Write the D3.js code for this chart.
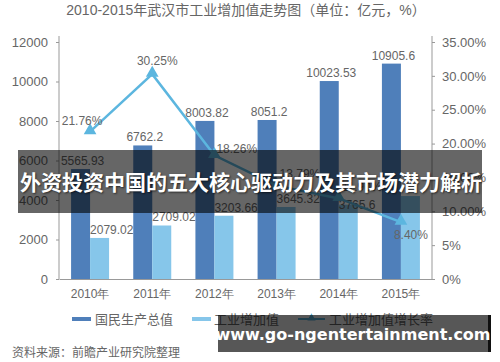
<!DOCTYPE html>
<html>
<head>
<meta charset="utf-8">
<script src="https://cdn.jsdelivr.net/npm/d3@7"></script>
<style>
  body { margin: 0; background: #fff; }
  svg { display: block; font-family: "Liberation Sans", Arial, "Noto Sans CJK SC", sans-serif; }
</style>
</head>
<body>
<div id="chart"></div>
<script>
// data
var years = ["2010年", "2011年", "2012年", "2013年", "2014年", "2015年"];
var gdp = [5565.93, 6762.2, 8003.82, 8051.2, 10023.53, 10905.6];
var industry = [2079.02, 2709.02, 3203.66, 3645.32, 3765.6, 4200];
var growth = [21.76, 30.25, 18.26, 13.79, 11.9, 8.40];
var growthText = ["21.76%", "30.25%", "18.26%", "13.79%", "11.90%", "8.40%"];
var leftTicks = [0, 2000, 4000, 6000, 8000, 10000, 12000];
var rightTicks = [0, 5, 10, 15, 20, 25, 30, 35];
var rightTickText = ["0%", "5%", "10.00%", "15.00%", "20.00%", "25.00%", "30.00%", "35.00%"];
var seriesNames = ["国民生产总值", "工业增加值", "工业增加值增长率"];

var w = 500, h = 362;
var dark = "#4f7fba", light = "#86c6ea", lineCol = "#5cb6df";
var textCol = "#666";

var svg = d3.select("#chart").append("svg")
  .attr("width", w)
  .attr("height", h);

var x = d3.scaleBand().domain(years).range([59, 432]).padding(0);
var yL = d3.scaleLinear().domain([0, 12000]).range([279, 42]);
var yR = d3.scaleLinear().domain([0, 35]).range([279, 42]);
var barW = 19;
var cx = function(i) { return x(years[i]) + x.bandwidth() / 2; };

// title
svg.append("text")
  .attr("x", 246).attr("y", 15)
  .attr("text-anchor", "middle")
  .attr("font-size", 14)
  .attr("fill", textCol)
  .text("2010-2015年武汉市工业增加值走势图（单位：亿元，%）");

// left axis
var leftAxis = svg.append("g")
  .attr("transform", "translate(59,0)")
  .call(d3.axisLeft(yL).tickValues(leftTicks).tickSize(3).tickFormat(d3.format("d")));
leftAxis.select(".domain").attr("stroke", "#999").attr("d", "M0,36V279");
leftAxis.selectAll(".tick line").attr("stroke", "#999");
leftAxis.selectAll(".tick text").attr("fill", textCol).attr("font-size", 13).attr("x", -11);

// right axis
var rightAxis = svg.append("g")
  .attr("transform", "translate(432,0)")
  .call(d3.axisRight(yR).tickValues(rightTicks).tickSize(3)
    .tickFormat(function(d, i) { return rightTickText[i]; }));
rightAxis.select(".domain").attr("stroke", "#999").attr("d", "M0,36V279");
rightAxis.selectAll(".tick line").attr("stroke", "#999");
rightAxis.selectAll(".tick text").attr("fill", textCol).attr("font-size", 13).attr("x", 10);

// bottom axis
var bottomAxis = svg.append("g")
  .attr("transform", "translate(0,279)")
  .call(d3.axisBottom(x).tickSize(0));
bottomAxis.select(".domain").attr("stroke", "#999");
bottomAxis.selectAll(".tick text").attr("fill", textCol).attr("font-size", 12).attr("dy", "1.3em");

// bars
svg.selectAll("rect.gdp").data(gdp).enter().append("rect")
  .attr("class", "gdp")
  .attr("x", function(d, i) { return cx(i) - barW; })
  .attr("y", function(d) { return yL(d); })
  .attr("width", barW)
  .attr("height", function(d) { return yL(0) - yL(d); })
  .attr("fill", dark);

svg.selectAll("rect.ind").data(industry).enter().append("rect")
  .attr("class", "ind")
  .attr("x", function(d, i) { return cx(i); })
  .attr("y", function(d) { return yL(d); })
  .attr("width", barW)
  .attr("height", function(d) { return yL(0) - yL(d); })
  .attr("fill", light);

// bar labels
svg.selectAll("text.gdpl").data(gdp).enter().append("text")
  .attr("class", "gdpl")
  .attr("x", function(d, i) { return cx(i) - barW / 2 + 2; })
  .attr("y", function(d) { return yL(d) - 4; })
  .attr("text-anchor", "middle")
  .attr("font-size", 12)
  .attr("fill", textCol)
  .text(function(d) { return d; });

svg.selectAll("text.indl").data(industry).enter().append("text")
  .attr("class", "indl")
  .attr("x", function(d, i) { return cx(i); })
  .attr("y", function(d, i) { return yL(d) - (i == 4 ? -4 : 4); })
  .attr("font-size", 12)
  .attr("fill", textCol)
  .text(function(d, i) { return i < 5 ? d : ""; });

// growth line
var line = d3.line()
  .x(function(d, i) { return cx(i); })
  .y(function(d) { return yR(d); });

svg.append("path")
  .datum(growth)
  .attr("d", line)
  .attr("fill", "none")
  .attr("stroke", lineCol)
  .attr("stroke-width", 2.5);

var tri = d3.symbol().type(d3.symbolTriangle).size(70);
svg.selectAll("path.mk").data(growth).enter().append("path")
  .attr("class", "mk")
  .attr("d", tri)
  .attr("transform", function(d, i) { return "translate(" + cx(i) + "," + (yR(d) - 1) + ")"; })
  .attr("fill", lineCol);

// label offsets for the growth values
var gdx = [-8, 5, 2, 3, 3, 10];
var gdy = [-7, -9, -2, -8, -7, 17];
var ganchor = ["middle", "middle", "start", "start", "start", "middle"];
svg.selectAll("text.gl").data(growth).enter().append("text")
  .attr("class", "gl")
  .attr("x", function(d, i) { return cx(i) + gdx[i]; })
  .attr("y", function(d, i) { return yR(d) + gdy[i]; })
  .attr("text-anchor", function(d, i) { return ganchor[i]; })
  .attr("font-size", 12)
  .attr("fill", textCol)
  .text(function(d, i) { return growthText[i]; });

// legend
var lg = svg.append("g");
lg.append("rect").attr("x", 72).attr("y", 317).attr("width", 19).attr("height", 4).attr("fill", dark);
lg.append("text").attr("x", 95).attr("y", 324).attr("font-size", 13).attr("fill", textCol).text(seriesNames[0]);
lg.append("rect").attr("x", 192).attr("y", 317).attr("width", 19).attr("height", 4).attr("fill", light);
lg.append("text").attr("x", 214).attr("y", 324).attr("font-size", 13).attr("fill", textCol).text(seriesNames[1]);
lg.append("line").attr("x1", 298).attr("x2", 325).attr("y1", 319).attr("y2", 319)
  .attr("stroke", lineCol).attr("stroke-width", 2);
lg.append("path").attr("d", d3.symbol().type(d3.symbolTriangle).size(30))
  .attr("transform", "translate(311.5,318)").attr("fill", lineCol);
lg.append("text").attr("x", 329).attr("y", 324).attr("font-size", 13).attr("fill", textCol).text(seriesNames[2]);

// source
svg.append("text")
  .attr("x", 12).attr("y", 357)
  .attr("font-size", 12)
  .attr("fill", textCol)
  .text("资料来源：前瞻产业研究院整理");

// overlay banner
svg.append("rect")
  .attr("x", 18).attr("y", 150).attr("width", 464).attr("height", 63)
  .attr("fill", "rgba(0,0,0,0.6)");
svg.append("text")
  .attr("x", 251).attr("y", 190)
  .attr("text-anchor", "middle")
  .attr("font-family", "'Noto Sans CJK SC', sans-serif")
  .attr("font-weight", "bold")
  .attr("font-size", 21)
  .attr("fill", "#fff")
  .style("text-shadow", "1px 1px 2px rgba(0,0,0,0.6)")
  .text("外资投资中国的五大核心驱动力及其市场潜力解析");

// watermark
svg.append("rect")
  .attr("x", 218).attr("y", 315).attr("width", 272).attr("height", 37)
  .attr("fill", "rgba(0,0,0,0.66)");
svg.append("rect")
  .attr("x", 488).attr("y", 315).attr("width", 3).attr("height", 37)
  .attr("fill", "#111");
svg.append("text")
  .attr("x", 353).attr("y", 340)
  .attr("text-anchor", "middle")
  .attr("font-family", "'DejaVu Sans', sans-serif")
  .attr("font-weight", "bold")
  .attr("font-size", 16)
  .attr("fill", "#fff")
  .text("www.go-ngentertainment.com");
</script>
</body>
</html>
